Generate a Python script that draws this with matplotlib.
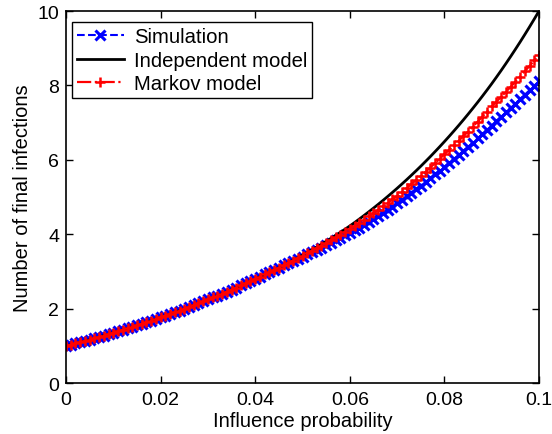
import matplotlib
matplotlib.use("Agg")
import matplotlib.pyplot as plt
import numpy as np

plt.rcParams['font.family'] = ['Liberation Sans', 'DejaVu Sans']

# influence probability 0 .. 0.1 step 0.001
prob = [i / 1000 for i in range(101)]

independent = [
    1.000, 1.031, 1.063, 1.096, 1.130, 1.165, 1.201, 1.238, 1.276, 1.316,
    1.357, 1.393, 1.431, 1.469, 1.509, 1.549, 1.591, 1.634, 1.677, 1.722,
    1.769, 1.812, 1.856, 1.901, 1.947, 1.994, 2.043, 2.092, 2.143, 2.195,
    2.249, 2.299, 2.350, 2.402, 2.455, 2.510, 2.566, 2.623, 2.681, 2.741,
    2.802, 2.860, 2.919, 2.979, 3.041, 3.104, 3.168, 3.234, 3.301, 3.369,
    3.439, 3.510, 3.583, 3.657, 3.733, 3.810, 3.889, 3.970, 4.052, 4.136,
    4.222, 4.313, 4.407, 4.503, 4.601, 4.701, 4.803, 4.907, 5.014, 5.123,
    5.234, 5.348, 5.464, 5.583, 5.704, 5.828, 5.955, 6.084, 6.217, 6.352,
    6.490, 6.631, 6.775, 6.922, 7.072, 7.226, 7.383, 7.543, 7.707, 7.875,
    8.046, 8.223, 8.403, 8.588, 8.777, 8.970, 9.167, 9.369, 9.575, 9.785,
    10.000,
]

markov = [
    1.000, 1.031, 1.063, 1.096, 1.130, 1.165, 1.201, 1.238, 1.276, 1.316,
    1.357, 1.393, 1.431, 1.469, 1.509, 1.549, 1.591, 1.634, 1.677, 1.722,
    1.769, 1.812, 1.856, 1.901, 1.947, 1.994, 2.043, 2.092, 2.143, 2.195,
    2.249, 2.299, 2.350, 2.402, 2.455, 2.510, 2.566, 2.623, 2.681, 2.741,
    2.802, 2.860, 2.919, 2.979, 3.041, 3.104, 3.166, 3.229, 3.293, 3.358,
    3.425, 3.491, 3.558, 3.626, 3.696, 3.766, 3.839, 3.912, 3.987, 4.064,
    4.142, 4.223, 4.307, 4.391, 4.478, 4.566, 4.656, 4.748, 4.841, 4.936,
    5.034, 5.135, 5.239, 5.345, 5.453, 5.563, 5.675, 5.790, 5.907, 6.026,
    6.148, 6.266, 6.386, 6.509, 6.633, 6.761, 6.890, 7.023, 7.157, 7.295,
    7.434, 7.563, 7.693, 7.826, 7.961, 8.098, 8.238, 8.380, 8.524, 8.671,
    8.821,
]

simulation = [
    1.000, 1.031, 1.063, 1.096, 1.130, 1.165, 1.201, 1.238, 1.276, 1.316,
    1.357, 1.393, 1.431, 1.469, 1.509, 1.549, 1.591, 1.634, 1.677, 1.722,
    1.769, 1.812, 1.856, 1.901, 1.947, 1.994, 2.043, 2.092, 2.143, 2.195,
    2.249, 2.299, 2.350, 2.402, 2.455, 2.510, 2.566, 2.623, 2.681, 2.741,
    2.802, 2.860, 2.919, 2.979, 3.041, 3.104, 3.164, 3.224, 3.283, 3.341,
    3.399, 3.458, 3.518, 3.579, 3.641, 3.704, 3.768, 3.833, 3.899, 3.966,
    4.034, 4.104, 4.177, 4.252, 4.329, 4.408, 4.489, 4.572, 4.657, 4.744,
    4.833, 4.924, 5.018, 5.113, 5.209, 5.306, 5.405, 5.505, 5.606, 5.708,
    5.811, 5.916, 6.022, 6.130, 6.239, 6.349, 6.461, 6.574, 6.688, 6.804,
    6.921, 7.038, 7.156, 7.274, 7.393, 7.512, 7.631, 7.751, 7.871, 7.991,
    8.111,
]

xticks = [0, 0.02, 0.04, 0.06, 0.08, 0.1]
xticklabels = ['0', '0.02', '0.04', '0.06', '0.08', '0.1']
yticks = [0, 2, 4, 6, 8, 10]
yticklabels = ['0', '2', '4', '6', '8', '10']

fig = plt.figure(figsize=(5.52, 4.35), dpi=100)
ax = fig.add_axes([0.1196, 0.1172, 0.8569, 0.8552])

ax.plot(prob, simulation, color='#0000ff', linestyle='--', marker='x',
        markersize=6.5, markeredgewidth=2.2, linewidth=1.5, label='Simulation')
ax.plot(prob, independent, color='black', linestyle='-', linewidth=2,
        label='Independent model')
ax.plot(prob, markov, color='#ff0000', linestyle='-.', marker='+',
        markersize=7.5, markeredgewidth=1.8, linewidth=1.6, label='Markov model')

ax.set_xlim(0, 0.1)
ax.set_ylim(0, 10)
ax.set_xticks(xticks)
ax.set_xticklabels(xticklabels)
ax.set_yticks(yticks)
ax.set_yticklabels(yticklabels)
ax.tick_params(direction='in', length=5, width=1, top=True, right=True,
               labelsize=14, pad=6)
ax.tick_params(axis='y', pad=5)
for s in ax.spines.values():
    s.set_linewidth(1.2)

ax.set_xlabel('Influence probability', fontsize=14.5, labelpad=2)
ax.set_ylabel('Number of final infections', fontsize=14.5, labelpad=4)

leg = ax.legend(loc='upper left', bbox_to_anchor=(0.0127, 0.970),
                borderaxespad=0, fontsize=14.6, numpoints=1, handlelength=2.3,
                fancybox=False, framealpha=1, edgecolor='black',
                borderpad=0.25, labelspacing=0.22, handletextpad=0.5)
leg.get_frame().set_linewidth(1.0)

fig.savefig('out.png', dpi=100)
